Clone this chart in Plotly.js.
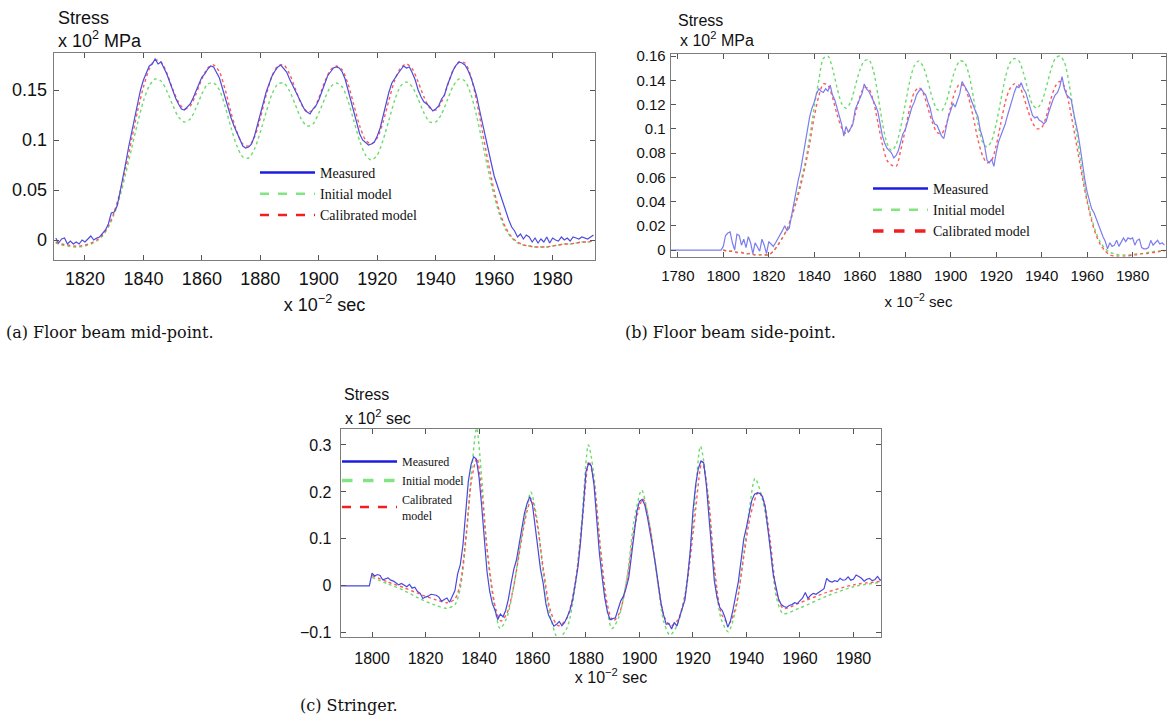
<!DOCTYPE html>
<html>
<head>
<meta charset="utf-8">
<script src="https://cdn.plot.ly/plotly-3.0.1.min.js"></script>
<style>
html,body{margin:0;padding:0;background:#fff;}
#chart{width:1168px;height:716px;}
</style>
</head>
<body>
<div id="chart"></div>
<script>
// ---------------- DATA ----------------
// (a) Floor beam mid-point  (time in x10^-2 sec, stress in x10^2 MPa)
const measA_start = 1810, measA_step = 1;
const measA = [
 0.002,-0.003,0.001,0.002,-0.004,-0.001,-0.004,-0.002,-0.004,0.000,
 -0.002,0.001,0.004,0.000,0.002,0.003,0.006,0.010,0.016,0.027,
 0.028,0.034,0.048,0.062,0.078,0.094,0.108,0.122,0.135,0.150,
 0.160,0.167,0.174,0.176,0.181,0.176,0.178,0.172,0.166,0.158,
 0.149,0.142,0.136,0.131,0.130,0.133,0.136,0.142,0.150,0.156,
 0.163,0.166,0.171,0.174,0.173,0.168,0.162,0.152,0.142,0.130,
 0.122,0.114,0.107,0.100,0.094,0.092,0.093,0.096,0.104,0.115,
 0.126,0.138,0.148,0.156,0.164,0.169,0.173,0.175,0.171,0.168,
 0.161,0.155,0.149,0.142,0.136,0.131,0.128,0.126,0.131,0.134,
 0.140,0.148,0.157,0.164,0.168,0.172,0.173,0.172,0.168,0.161,
 0.150,0.139,0.127,0.115,0.106,0.100,0.097,0.095,0.096,0.098,
 0.104,0.112,0.124,0.137,0.148,0.157,0.162,0.166,0.170,0.174,
 0.172,0.173,0.167,0.160,0.150,0.143,0.138,0.136,0.133,0.129,
 0.131,0.134,0.141,0.145,0.155,0.163,0.170,0.175,0.178,0.177,
 0.175,0.170,0.163,0.154,0.144,0.130,0.116,0.103,0.090,0.077,
 0.064,0.055,0.046,0.036,0.028,0.020,0.013,0.009,0.003,0.006,
 0.001,0.005,0.003,-0.002,0.002,-0.003,0.001,-0.002,0.003,-0.003,
 0.002,0.000,-0.001,0.003,0.000,0.002,-0.001,0.003,0.002,0.001,
 0.003,0.002,0.001,0.003,0.005
];
const modA_start = 1810, modA_step = 2;
const initA = [
 -0.003,-0.005,-0.006,-0.007,-0.007,-0.006,-0.004,-0.001,0.004,0.013,
 0.026,0.044,0.067,0.092,0.117,0.139,0.154,0.161,0.159,0.149,
 0.135,0.123,0.118,0.121,0.132,0.146,0.156,0.157,0.150,0.133,
 0.112,0.094,0.083,0.082,0.091,0.108,0.128,0.146,0.156,0.157,
 0.149,0.135,0.121,0.114,0.116,0.127,0.141,0.153,0.157,0.153,
 0.139,0.119,0.099,0.085,0.080,0.085,0.100,0.120,0.140,0.154,
 0.158,0.153,0.141,0.127,0.118,0.118,0.126,0.140,0.154,0.161,
 0.159,0.146,0.124,0.097,0.069,0.044,0.024,0.010,0.002,-0.003,
 -0.005,-0.006,-0.007,-0.007,-0.007,-0.006,-0.005,-0.004,-0.004,-0.003,
 -0.002,-0.002,-0.001
];
const calA = [
 -0.002,-0.004,-0.005,-0.006,-0.006,-0.005,-0.003,0.000,0.005,0.014,
 0.028,0.048,0.073,0.101,0.129,0.153,0.171,0.180,0.178,0.167,
 0.151,0.138,0.131,0.134,0.146,0.161,0.172,0.175,0.168,0.150,
 0.127,0.108,0.096,0.094,0.103,0.122,0.145,0.164,0.174,0.175,
 0.166,0.151,0.136,0.128,0.130,0.142,0.158,0.170,0.174,0.170,
 0.156,0.135,0.114,0.100,0.096,0.102,0.118,0.140,0.160,0.172,
 0.176,0.171,0.158,0.143,0.132,0.130,0.138,0.154,0.170,0.178,
 0.177,0.164,0.139,0.108,0.077,0.049,0.027,0.012,0.003,-0.002,
 -0.005,-0.006,-0.007,-0.007,-0.007,-0.006,-0.005,-0.004,-0.004,-0.003,
 -0.002,-0.002,-0.001
];

// (b) Floor beam side-point
const measB_start = 1777, measB_step = 1;
const measB = [
 0,0,0,0,0,0,0,0,0,0,0,0,0,0,0,0,0,0,0,0,0,0,0,
 0.003,0.012,0.014,0.015,0.006,0.000,0.013,0.012,0.004,0.009,
 0.002,0.011,0.006,-0.003,0.006,0.003,-0.001,0.009,0.004,-0.003,
 0.007,0.005,0.003,0.006,0.009,0.012,0.016,0.020,0.016,0.018,
 0.028,0.040,0.051,0.058,0.066,0.077,0.089,0.100,0.110,0.117,
 0.122,0.129,0.133,0.131,0.130,0.133,0.131,0.136,0.128,0.124,
 0.118,0.112,0.104,0.094,0.102,0.097,0.100,0.104,0.116,0.120,
 0.124,0.129,0.137,0.133,0.131,0.127,0.124,0.119,0.114,0.102,
 0.094,0.088,0.084,0.082,0.080,0.076,0.078,0.082,0.088,0.096,
 0.099,0.106,0.112,0.118,0.122,0.128,0.131,0.133,0.130,0.128,
 0.122,0.117,0.108,0.104,0.103,0.099,0.094,0.092,0.101,0.110,
 0.115,0.121,0.118,0.124,0.129,0.139,0.136,0.132,0.129,0.124,
 0.118,0.114,0.110,0.099,0.093,0.085,0.074,0.072,0.075,0.069,
 0.080,0.089,0.094,0.099,0.104,0.111,0.118,0.125,0.130,0.135,
 0.134,0.138,0.133,0.130,0.124,0.116,0.111,0.109,0.110,0.107,
 0.106,0.104,0.106,0.113,0.119,0.124,0.128,0.130,0.135,0.143,
 0.133,0.128,0.126,0.124,0.114,0.106,0.096,0.084,0.070,0.058,
 0.048,0.040,0.034,0.031,0.026,0.021,0.015,0.011,0.007,0.001,
 0.006,0.003,0.004,0.008,0.003,0.006,0.010,0.007,0.010,0.009,
 0.010,0.004,0.008,0.009,0.002,0.001,0.001,0.002,0.008,0.004,
 0.006,0.008,0.005,0.006,0.004
];
const modB_start = 1800, modB_step = 2;
const initB = [
 0.000,-0.001,-0.001,-0.002,-0.002,-0.003,-0.003,-0.004,-0.004,-0.004,
 -0.004,-0.001,0.004,0.010,0.017,0.028,0.041,0.056,0.072,0.093,
 0.118,0.140,0.158,0.160,0.150,0.134,0.121,0.117,0.122,0.135,
 0.148,0.156,0.157,0.148,0.128,0.105,0.088,0.082,0.087,0.101,
 0.120,0.139,0.152,0.156,0.151,0.139,0.125,0.116,0.115,0.122,
 0.136,0.149,0.156,0.155,0.145,0.126,0.104,0.089,0.085,0.090,
 0.104,0.123,0.142,0.154,0.158,0.156,0.146,0.132,0.120,0.117,
 0.122,0.134,0.148,0.158,0.160,0.155,0.138,0.114,0.088,0.063,
 0.042,0.026,0.014,0.006,0.001,-0.002,-0.003,-0.004,-0.004,-0.004,
 -0.004,-0.003,-0.003,-0.002,-0.002,-0.001,-0.001,0.000
];
const calB = [
 0.000,-0.001,-0.001,-0.002,-0.002,-0.003,-0.003,-0.004,-0.004,-0.004,
 -0.004,-0.001,0.004,0.010,0.017,0.027,0.039,0.053,0.069,0.088,
 0.110,0.127,0.137,0.136,0.126,0.112,0.101,0.096,0.100,0.112,
 0.126,0.134,0.133,0.123,0.105,0.087,0.074,0.070,0.069,0.082,
 0.099,0.117,0.130,0.134,0.129,0.117,0.105,0.097,0.096,0.103,
 0.118,0.131,0.137,0.135,0.125,0.109,0.091,0.078,0.072,0.074,
 0.086,0.104,0.122,0.133,0.137,0.136,0.127,0.115,0.105,0.100,
 0.101,0.110,0.124,0.135,0.139,0.135,0.121,0.101,0.080,0.059,
 0.040,0.024,0.012,0.004,-0.001,-0.004,-0.005,-0.005,-0.005,-0.005,
 -0.004,-0.004,-0.003,-0.003,-0.002,-0.002,-0.001,-0.001
];

// (c) Stringer
const measC_start = 1788, measC_step = 1;
const measC = [
 0,0,0,0,0,0,0,0,0,0,0,0,
 0.027,0.021,0.024,0.022,0.013,0.015,0.017,0.012,0.010,0.006,
 0.002,0.005,0.001,-0.002,0.003,-0.005,-0.003,-0.012,-0.016,-0.027,
 -0.024,-0.022,-0.018,-0.019,-0.020,-0.024,-0.033,-0.029,-0.026,-0.035,
 -0.024,-0.010,0.025,0.045,0.087,0.160,0.222,0.258,0.275,0.270,
 0.232,0.170,0.090,0.030,-0.012,-0.038,-0.052,-0.072,-0.060,-0.066,
 -0.052,-0.028,0.005,0.035,0.055,0.088,0.130,0.155,0.176,0.190,
 0.172,0.130,0.083,0.035,0.005,-0.038,-0.062,-0.075,-0.086,-0.082,
 -0.076,-0.085,-0.078,-0.066,-0.052,-0.030,0.005,0.040,0.095,0.180,
 0.243,0.262,0.255,0.215,0.140,0.070,0.020,-0.025,-0.055,-0.072,
 -0.070,-0.068,-0.050,-0.032,-0.022,-0.005,0.018,0.060,0.110,0.158,
 0.180,0.184,0.172,0.145,0.115,0.080,0.045,0.000,-0.035,-0.062,
 -0.082,-0.080,-0.092,-0.078,-0.086,-0.066,-0.045,-0.030,0.018,0.075,
 0.160,0.215,0.250,0.266,0.262,0.215,0.145,0.075,0.010,-0.025,
 -0.046,-0.053,-0.068,-0.088,-0.075,-0.050,-0.018,0.010,0.055,0.100,
 0.125,0.155,0.182,0.195,0.198,0.197,0.190,0.168,0.125,0.075,
 0.025,0.000,-0.028,-0.040,-0.044,-0.046,-0.042,-0.040,-0.036,-0.038,
 -0.032,-0.026,-0.014,-0.027,-0.020,-0.016,-0.018,-0.014,-0.010,-0.006,
 0.016,0.010,0.008,0.011,0.009,0.016,0.012,0.013,0.019,0.012,
 0.014,0.023,0.020,0.016,0.010,0.014,0.016,0.011,0.013,0.020,
 0.012,0.014
];
const initC_t = [1800,1806,1812,1818,1824,1828,1831,1833,1835.4,1837.2,1839.1,1841,1842.5,1844.1,1846,1847.9,1850.4,1852.9,1855.3,1857.8,1859.4,1861.6,1864,1866.5,1869.6,1872.8,1875.9,1878.4,1880.9,1882.8,1885.3,1887.8,1889.7,1892.2,1895.3,1898,1900.8,1903.5,1906.5,1909,1911.4,1914,1917,1920,1922.8,1925.5,1928,1930.5,1933.2,1936,1939,1941,1943.2,1945.5,1948.2,1951.3,1953.7,1960,1970,1980,1991];
const initC = [0.018,0.004,-0.010,-0.028,-0.042,-0.048,-0.040,-0.005,0.115,0.243,0.336,0.230,0.110,0.021,-0.050,-0.091,-0.068,-0.004,0.083,0.165,0.200,0.145,0.030,-0.061,-0.112,-0.091,-0.004,0.139,0.300,0.243,0.083,-0.048,-0.091,-0.068,0.017,0.140,0.204,0.140,0.020,-0.075,-0.105,-0.085,-0.020,0.130,0.297,0.200,0.030,-0.070,-0.098,-0.050,0.070,0.160,0.229,0.195,0.115,-0.027,-0.059,-0.047,-0.022,-0.002,0.008];
const calC_t = [1800,1806,1812,1818,1824,1828,1831,1833,1835.2,1837.2,1839.2,1841.2,1842.8,1844.5,1846.3,1848.2,1850.5,1853,1855.5,1858,1859.6,1861.8,1864.2,1866.8,1869.6,1872.6,1875.8,1878.5,1881.1,1883,1885.4,1888,1890.1,1892.5,1895.5,1898.3,1901.3,1903.8,1906.6,1909.2,1911.8,1914.4,1917.2,1920.2,1923.4,1925.8,1928.2,1930.8,1933.5,1936.2,1939.2,1941.5,1944.5,1946.5,1948.8,1951.5,1953.8,1960,1970,1980,1991];
const calC = [0.022,0.008,-0.004,-0.018,-0.030,-0.036,-0.028,0.005,0.110,0.225,0.272,0.190,0.090,0.010,-0.050,-0.075,-0.058,0.000,0.085,0.160,0.185,0.130,0.030,-0.055,-0.085,-0.072,0.000,0.130,0.265,0.220,0.080,-0.040,-0.075,-0.058,0.018,0.130,0.185,0.130,0.020,-0.065,-0.085,-0.072,-0.015,0.120,0.265,0.185,0.030,-0.062,-0.080,-0.040,0.070,0.150,0.200,0.180,0.100,-0.020,-0.048,-0.036,-0.014,0.002,0.010];

// tick labels
const xTicksA = [1820,1840,1860,1880,1900,1920,1940,1960,1980];
const xTicksB = [1780,1800,1820,1840,1860,1880,1900,1920,1940,1960,1980];
const xTicksC = [1800,1820,1840,1860,1880,1900,1920,1940,1960,1980];
const yTicksA = [0,0.05,0.1,0.15];
const yLabelsA = ['0','0.05','0.1','0.15'];
const yTicksB = [0,0.02,0.04,0.06,0.08,0.1,0.12,0.14,0.16];
const yLabelsB = ['0','0.02','0.04','0.06','0.08','0.1','0.12','0.14','0.16'];
const yTicksC = [-0.1,0,0.1,0.2,0.3];
const yLabelsC = ['\u22120.1','0','0.1','0.2','0.3'];
const seriesNames = ['Measured','Initial model','Calibrated model'];

// ---------------- STYLE ----------------
const SANS = 'Liberation Sans, Arial, Helvetica, sans-serif';
const SERIF = 'Liberation Serif, Times New Roman, serif';
const CAP = 'DejaVu Serif, serif';
const W = 1168, H = 716;
const px = v => v / W;
const py = v => 1 - v / H;

const cBlueA = '#4c4cde', cBlueB = '#7c7cf0', cBlueC = '#4848dc';
const cGreen = '#6ddc6d', cRed = '#ff5a5a';
const legBlue = '#1c1ce0', legGreen = '#82e482', legRed = '#f02020';

function line(color, width, dash){ return {color:color, width:width, dash:dash||'solid'}; }

const traces = [];
function addPanel(ax, meas, mStart, mStep, blue, init, cal, modelX, legendId, legNames, legWidths){
  const xa = 'x' + ax, ya = 'y' + ax;
  const leg = legendId;
  const initTr = {type:'scatter', mode:'lines', xaxis:xa, yaxis:ya, y:init, line:Object.assign(line(cGreen,1.4,'dot'),{shape:'spline',smoothing:0.8}), showlegend:false, hoverinfo:'skip', name:seriesNames[1]};
  const calTr  = {type:'scatter', mode:'lines', xaxis:xa, yaxis:ya, y:cal,  line:Object.assign(line(cRed,1.4,'dot'),{shape:'spline',smoothing:0.8}), showlegend:false, hoverinfo:'skip', name:seriesNames[2]};
  if(modelX.t){ initTr.x = modelX.t; calTr.x = modelX.t2; }
  else { initTr.x0 = modelX.start; initTr.dx = modelX.step; calTr.x0 = modelX.start; calTr.dx = modelX.step; }
  traces.push(initTr, calTr);
  traces.push({type:'scatter', mode:'lines', xaxis:xa, yaxis:ya, x0:mStart, dx:mStep, y:meas, line:line(blue,1.2), showlegend:false, hoverinfo:'skip', name:seriesNames[0]});
  // legend entries
  traces.push({type:'scatter', mode:'lines', xaxis:xa, yaxis:ya, x:[null], y:[null], name:legNames[0], legend:leg, line:line(legBlue,legWidths[0]), legendrank:1});
  traces.push({type:'scatter', mode:'lines', xaxis:xa, yaxis:ya, x:[null], y:[null], name:legNames[1], legend:leg, line:line(legGreen,legWidths[1],'dash'), legendrank:2});
  traces.push({type:'scatter', mode:'lines', xaxis:xa, yaxis:ya, x:[null], y:[null], name:legNames[2], legend:leg, line:line(legRed,legWidths[2],'dash'), legendrank:3});
}
addPanel('', measA, measA_start, measA_step, cBlueA, initA, calA, {start:modA_start, step:modA_step}, 'legend', seriesNames, [2.5,2.5,2.5]);
addPanel('2', measB, measB_start, measB_step, cBlueB, initB, calB, {start:modB_start, step:modB_step}, 'legend2', seriesNames, [2.5,2.5,3.5]);
addPanel('3', measC, measC_start, measC_step, cBlueC, initC, calC, {t:initC_t, t2:calC_t}, 'legend3', ['Measured','Initial model','Calibrated<br>model'], [2.5,3.5,2.5]);

function xAxis(dom, range, ticks, fs, anchor, standoff, lab){
  return {domain:dom, range:range, anchor:anchor, tickvals:ticks, ticktext:ticks.map(String),
    ticks:'inside', ticklen:5, tickwidth:1, tickcolor:'#555', showline:true, linecolor:'#7d7d7d', linewidth:1.3,
    mirror:'ticks', showgrid:false, zeroline:false, tickfont:{family:SANS, size:fs, color:'#111'},
    ticklabelstandoff: lab, fixedrange:true,
    title:{text:'x 10<sup>\u22122</sup> sec', font:{family:SANS, size:fs, color:'#111'}, standoff:standoff}};
}
function yAxis(dom, range, ticks, labels, fs, anchor, lab){
  return {domain:dom, range:range, anchor:anchor, tickvals:ticks, ticktext:labels,
    ticks:'inside', ticklen:5, tickwidth:1, tickcolor:'#555', showline:true, linecolor:'#7d7d7d', linewidth:1.3,
    mirror:'ticks', showgrid:false, zeroline:false, tickfont:{family:SANS, size:fs, color:'#111'},
    ticklabelstandoff: lab, fixedrange:true};
}
function legendBox(x, y, fs){
  return {x:px(x), y:py(y), xanchor:'left', yanchor:'top', xref:'paper', yref:'paper',
    bgcolor:'rgba(0,0,0,0)', borderwidth:0, font:{family:SERIF, size:fs, color:'#111'},
    itemwidth:55, tracegroupgap:0, traceorder:'normal'};
}
function ann(text, x, y, fs, family){
  return {text:text, x:px(x), y:py(y), xref:'paper', yref:'paper', xanchor:'left', yanchor:'middle',
    showarrow:false, font:{family:family||SANS, size:fs, color:'#111'}};
}

const layout = {
  width:W, height:H, autosize:false, margin:{l:0,r:0,t:0,b:0},
  paper_bgcolor:'#fff', plot_bgcolor:'#fff', hovermode:false, showlegend:true,
  xaxis:  xAxis([px(54),px(595)],  [1809.4,1994.5], xTicksA, 18, 'y', 10, 2),
  yaxis:  yAxis([py(260),py(53)],  [-0.020,0.187], yTicksA, yLabelsA, 18, 'x', 2),
  xaxis2: xAxis([px(671),px(1166)],[1777,1994.7], xTicksB, 15, 'y2', 13, 5),
  yaxis2: yAxis([py(256.7),py(54)],[-0.0055,0.1617], yTicksB, yLabelsB, 15, 'x2', 1),
  xaxis3: xAxis([px(341),px(881)], [1788.4,1990.3], xTicksC, 16, 'y3', 5, 6),
  yaxis3: yAxis([py(637),py(429)], [-0.109,0.334], yTicksC, yLabelsC, 16, 'x3', 5),
  legend:  legendBox(255, 157, 14),
  legend2: legendBox(868, 173, 14),
  legend3: legendBox(337, 447, 12),
  annotations:[
    ann('Stress', 56, 18, 18), ann('x 10<sup>2</sup> MPa', 56, 39, 18),
    ann('Stress', 676, 20, 16), ann('x 10<sup>2</sup> MPa', 678, 39, 16),
    ann('Stress', 342, 394, 16), ann('x 10<sup>2</sup> sec', 343, 417, 16),
    ann('(a) Floor beam mid-point.', 4, 332, 16, CAP),
    ann('(b) Floor beam side-point.', 623, 332, 16, CAP),
    ann('(c) Stringer.', 298, 705, 16, CAP)
  ]
};

Plotly.newPlot('chart', traces, layout, {staticPlot:true, displayModeBar:false});
</script>
</body>
</html>
